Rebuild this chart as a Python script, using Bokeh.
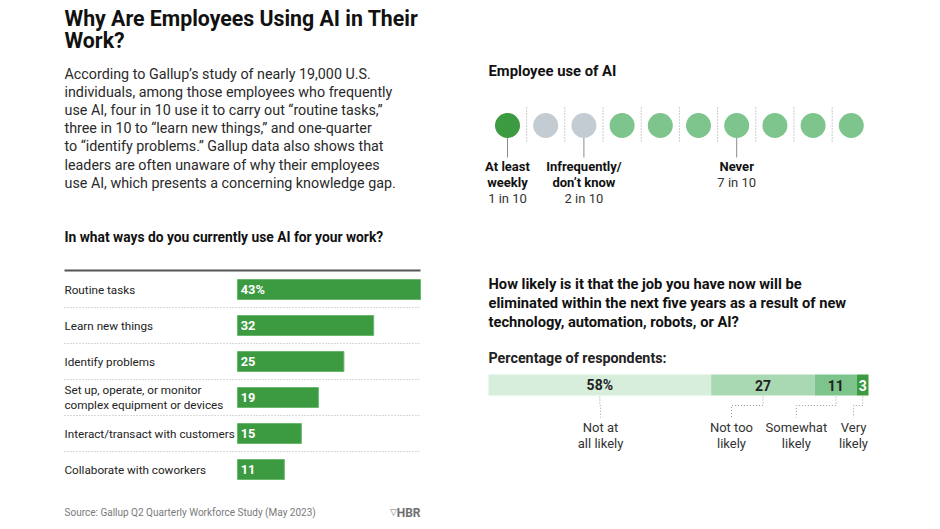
from bokeh.plotting import figure
from bokeh.models import Range1d
from bokeh.core.properties import value
from bokeh.embed import file_html
from bokeh.resources import INLINE

# ---------------- data ----------------
title_lines = ["Why Are Employees Using AI in Their", "Work?"]
body_lines = [
    "According to Gallup\u2019s study of nearly 19,000 U.S.",
    "individuals, among those employees who frequently",
    "use AI, four in 10 use it to carry out \u201croutine tasks,\u201d",
    "three in 10 to \u201clearn new things,\u201d and one-quarter",
    "to \u201cidentify problems.\u201d Gallup data also shows that",
    "leaders are often unaware of why their employees",
    "use AI, which presents a concerning knowledge gap.",
]
use_question = "In what ways do you currently use AI for your work?"
use_categories = [
    "Routine tasks",
    "Learn new things",
    "Identify problems",
    "Set up, operate, or monitor\ncomplex equipment or devices",
    "Interact/transact with customers",
    "Collaborate with coworkers",
]
use_values = [43, 32, 25, 19, 15, 11]
use_value_labels = ["43%", "32", "25", "19", "15", "11"]

freq_title = "Employee use of AI"
freq_groups = ["At least\nweekly", "Infrequently/\ndon\u2019t know", "Never"]
freq_counts = [1, 2, 7]  # out of 10
freq_count_labels = ["1 in 10", "2 in 10", "7 in 10"]

likely_question = [
    "How likely is it that the job you have now will be",
    "eliminated within the next five years as a result of new",
    "technology, automation, robots, or AI?",
]
likely_subtitle = "Percentage of respondents:"
likely_categories = ["Not at\nall likely", "Not too\nlikely", "Somewhat\nlikely", "Very\nlikely"]
likely_values = [58, 27, 11, 3]
likely_value_labels = ["58%", "27", "11", "3"]

source_text = "Source: Gallup Q2 Quarterly Workforce Study (May 2023)"

# ---------------- styles / layout ----------------
SANS = value("Roboto")
DARK_GREEN = "#3c9a40"
MID_GREEN = "#7dc58c"
GREY_DOT = "#c3ccd2"
likely_colors = ["#d8eedc", "#a9d9b2", "#7cc48b", "#3c9a40"]
likely_label_anchor = [29.2, 63.3, 80.2, 95.1]   # label positions (layout, in stacked-bar units)

W, H = 924, 524
p = figure(width=W, height=H, x_range=Range1d(0, W), y_range=Range1d(H, 0),
           output_backend="svg", toolbar_location=None, min_border=0,
           x_axis_location=None, y_axis_location=None)
p.grid.visible = False
p.outline_line_color = None
p.background_fill_color = "white"

# scales for each panel (ranges mapped onto the full canvas)
kb = (420 - 237) / 43.0          # px per percentage point, bar chart
row_h = 36.0
p.extra_x_ranges["bx"] = Range1d((0 - 237) / kb, (W - 237) / kb)
p.extra_y_ranges["by"] = Range1d((H - 289) / row_h, (0 - 289) / row_h)
kc = 38.2
p.extra_x_ranges["cx"] = Range1d((0 - 507) / kc, (W - 507) / kc)
ks = 380 / 99.0
p.extra_x_ranges["sx"] = Range1d((0 - 488) / ks, (W - 488) / ks)

# ---------------- left: title and body ----------------
p.text(x=[64] * len(title_lines), y=[18 + 22 * i for i in range(len(title_lines))], text=title_lines,
       text_font=SANS, text_font_style="bold", text_font_size="21.3px", text_color="#111111",
       text_baseline="middle")
p.text(x=[64] * len(body_lines), y=[73 + 18.2 * i for i in range(len(body_lines))], text=body_lines,
       text_font=SANS, text_font_size="14.3px", text_color="#2a2a2a", text_baseline="middle")

p.text(x=[64], y=[236], text=[use_question], text_font=SANS, text_font_style="bold",
       text_font_size="13.8px", text_color="#111111", text_baseline="middle")

# ---------------- left: bar chart ----------------
n = len(use_values)
idx = list(range(n))
p.segment(x0=[64], x1=[420], y0=[-0.53], y1=[-0.53], y_range_name="by",
          line_color="#555555", line_width=2)
p.segment(x0=[64] * (n - 1), x1=[420] * (n - 1), y0=[i + 0.5 for i in range(n - 1)],
          y1=[i + 0.5 for i in range(n - 1)], y_range_name="by",
          line_color="#b5b5b5", line_width=1, line_dash="1 2")
p.hbar(y=idx, left=0, right=use_values, height=20 / row_h, x_range_name="bx", y_range_name="by",
       fill_color=DARK_GREEN, line_color="#67b86b", line_width=1)
p.text(x=[0.75] * n, y=idx, text=use_value_labels, x_range_name="bx", y_range_name="by",
       text_font=SANS, text_font_style="bold", text_font_size="12.8px", text_color="white",
       text_baseline="middle")
cat_text, cat_y = [], []
for i, c in enumerate(use_categories):
    parts = c.split("\n")
    m = len(parts)
    for j, part in enumerate(parts):
        cat_text.append(part)
        cat_y.append(i + (j - (m - 1) / 2) * (15.5 / row_h))
p.text(x=[64] * len(cat_text), y=cat_y, text=cat_text, y_range_name="by",
       text_font=SANS, text_font_size="11.7px", text_color="#222222", text_baseline="middle")

p.text(x=[64], y=[512], text=[source_text], text_font=SANS, text_font_size="10px",
       text_color="#7a7a7a", text_baseline="middle")
p.text(x=[393], y=[511], text=["\u25bd"], text_font=value("DejaVu Sans"), text_font_size="9px",
       text_color="#7a7a7a", text_baseline="middle", text_align="center")
p.text(x=[420], y=[512], text=["HBR"], text_font=SANS, text_font_style="bold",
       text_font_size="12px", text_color="#6f6f6f", text_baseline="middle", text_align="right")

# ---------------- right top: dot chart ----------------
p.text(x=[488], y=[70], text=[freq_title], text_font=SANS, text_font_style="bold",
       text_font_size="14.8px", text_color="#111111", text_baseline="middle")
group_colors = [DARK_GREEN, GREY_DOT, MID_GREEN]
dot_colors = []
for g, cnt in enumerate(freq_counts):
    dot_colors += [group_colors[g]] * cnt
ndots = len(dot_colors)
p.segment(x0=[i + 0.5 for i in range(ndots - 1)], x1=[i + 0.5 for i in range(ndots - 1)],
          y0=[107] * (ndots - 1), y1=[143] * (ndots - 1), x_range_name="cx",
          line_color="#9a9a9a", line_width=1, line_dash="1 2")
p.scatter(x=list(range(ndots)), y=[125] * ndots, size=25, x_range_name="cx",
          fill_color=dot_colors, line_color=None)
starts = [sum(freq_counts[:g]) for g in range(len(freq_counts))]
anchors = [s + c // 2 for s, c in zip(starts, freq_counts)]
p.segment(x0=anchors, x1=anchors, y0=[137.5] * len(anchors), y1=[157] * len(anchors),
          x_range_name="cx", line_color="#8a8a8a", line_width=1)
gx, gy, gt = [], [], []
cx_, cy_, ct_ = [], [], []
for g, name in enumerate(freq_groups):
    parts = name.split("\n")
    for j, part in enumerate(parts):
        gx.append(anchors[g]); gy.append(166 + 16 * j); gt.append(part)
    cx_.append(anchors[g]); cy_.append(166 + 16 * len(parts)); ct_.append(freq_count_labels[g])
p.text(x=gx, y=gy, text=gt, x_range_name="cx", text_font=SANS, text_font_style="bold",
       text_font_size="13px", text_color="#111111", text_baseline="middle", text_align="center")
p.text(x=cx_, y=cy_, text=ct_, x_range_name="cx", text_font=SANS,
       text_font_size="13px", text_color="#333333", text_baseline="middle", text_align="center")

# ---------------- right bottom: stacked bar ----------------
p.text(x=[488] * len(likely_question), y=[283 + 19 * i for i in range(len(likely_question))],
       text=likely_question, text_font=SANS, text_font_style="bold", text_font_size="14.7px",
       text_color="#111111", text_baseline="middle")
p.text(x=[488], y=[357], text=[likely_subtitle], text_font=SANS, text_font_style="bold",
       text_font_size="14.3px", text_color="#222222", text_baseline="middle")

lefts = [sum(likely_values[:i]) for i in range(len(likely_values))]
rights = [l + v for l, v in zip(lefts, likely_values)]
centers = [(l + r) / 2 for l, r in zip(lefts, rights)]
p.hbar(y=[384.5] * len(likely_values), left=lefts, right=rights, height=21, x_range_name="sx",
       fill_color=likely_colors, line_color=None)
val_colors = ["#222222"] * (len(likely_values) - 1) + ["white"]
p.text(x=centers, y=[384.5] * len(centers), text=likely_value_labels, x_range_name="sx",
       text_font=SANS, text_font_style="bold", text_font_size="14px", text_color=val_colors,
       text_baseline="middle", text_align="center")
xs = [[c, c, a, a] for c, a in zip(centers, likely_label_anchor)]
ys = [[396, 405, 405, 417]] * len(centers)
p.multi_line(xs=xs, ys=ys, x_range_name="sx", line_color="#9a9a9a", line_width=1, line_dash="1 2")
lx, ly, lt = [], [], []
for i, name in enumerate(likely_categories):
    for j, part in enumerate(name.split("\n")):
        lx.append(likely_label_anchor[i]); ly.append(427 + 16 * j); lt.append(part)
p.text(x=lx, y=ly, text=lt, x_range_name="sx", text_font=SANS, text_font_size="13px",
       text_color="#333333", text_baseline="middle", text_align="center")

open("out.html", "w").write(file_html(p, INLINE))
